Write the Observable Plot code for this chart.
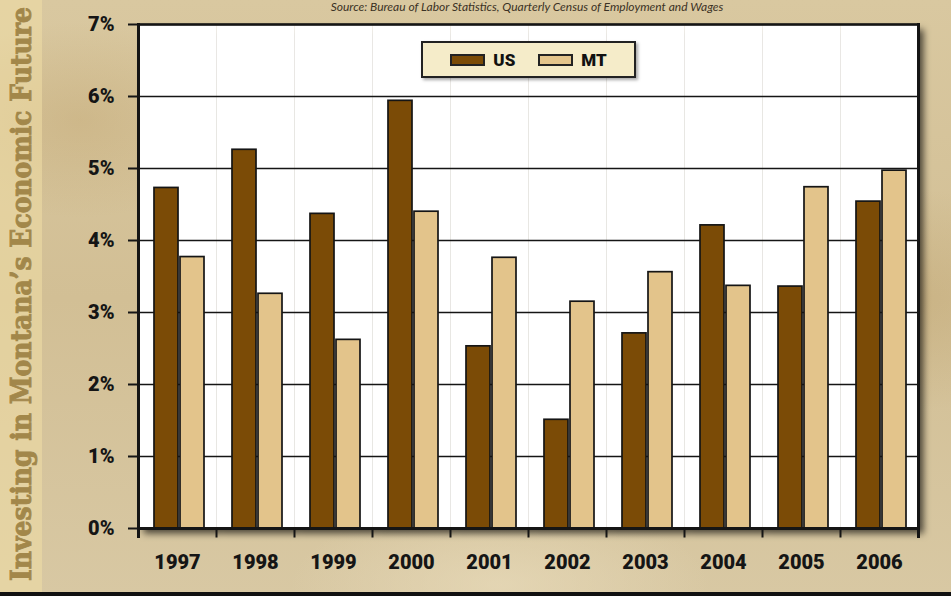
<!DOCTYPE html>
<html>
<head>
<meta charset="utf-8">
<script src="https://cdn.jsdelivr.net/npm/d3@7"></script>
<script src="https://cdn.jsdelivr.net/npm/@observablehq/plot@0.6"></script>
<style>
  html, body { margin: 0; padding: 0; }
  body { width: 951px; height: 596px; overflow: hidden; }
  #wrap {
    position: relative; width: 951px; height: 596px; overflow: hidden;
    background:
      radial-gradient(ellipse 220px 140px at 80px 120px, rgba(190,160,105,0.35), rgba(190,160,105,0) 70%),
      radial-gradient(ellipse 260px 160px at 900px 300px, rgba(185,155,100,0.35), rgba(185,155,100,0) 70%),
      radial-gradient(ellipse 300px 120px at 500px 585px, rgba(235,222,190,0.6), rgba(235,222,190,0) 70%),
      linear-gradient(180deg, #d9c8a0 0%, #d2bf95 50%, #d8c8a3 100%);
  }
  #strip { position: absolute; left: 0; top: 0; width: 42px; height: 596px; background: rgba(240,222,165,0.55); }
  #bottomline { position: absolute; left: 0; bottom: 0; width: 951px; height: 4px; background: #111; }
  #source {
    position: absolute; left: 0; width: 1054px; top: 0px; text-align: center;
    font-family: Lato, "Open Sans", sans-serif; font-style: italic; font-size: 12px; line-height: 13px; color: #3b3225;
  }
  #side { position: absolute; left: 0; top: 0; }
  #legend {
    position: absolute; left: 421px; top: 41px; width: 215px; height: 37px; box-sizing: border-box;
    border: 2px solid #222; background: #f5ecc9; box-shadow: 2px 2px 3px rgba(0,0,0,0.35);
    display: flex; align-items: center; justify-content: center;
    font-family: Roboto, "DejaVu Sans", sans-serif; font-weight: 900; font-size: 17px; color: #111;
  }
  #legend .item { display: flex; align-items: center; }
  #legend .item + .item { margin-left: 23px; }
  #legend .sw { display: inline-block; width: 31px; height: 8px; border: 2px solid #222; margin-right: 8px; }
  #chart { position: absolute; left: 0; top: 0; }
</style>
</head>
<body>
<div id="wrap">
  <div id="strip"></div>
  <div id="source"></div>
  <div id="chart"></div>
  <div id="legend"></div>
  <div id="bottomline"></div>
</div>
<script>
const years = ["1997", "1998", "1999", "2000", "2001", "2002", "2003", "2004", "2005", "2006"];
const series = ["US", "MT"];
const usValues = [4.73, 5.26, 4.37, 5.94, 2.53, 1.51, 2.71, 4.21, 3.36, 4.54];
const mtValues = [3.77, 3.26, 2.62, 4.40, 3.76, 3.15, 3.56, 3.37, 4.74, 4.97];
const seriesColors = ["#7b4b06", "#e3c48b"];
const yTicks = [0, 1, 2, 3, 4, 5, 6, 7];
const sideTitle = "Investing in Montana\u2019s Economic Future";
const sourceText = "Source: Bureau of Labor Statistics, Quarterly Census of Employment and Wages";

const data = [];
years.forEach((y, i) => {
  data.push({year: y, series: "US", value: usValues[i]});
  data.push({year: y, series: "MT", value: mtValues[i]});
});

const W = 951, H = 596;
const mTop = 24, mRight = 33, mBottom = 68, mLeft = 137;
const innerH = H - mTop - mBottom;
const ink = "#151515";

const plot = Plot.plot({
  width: W,
  height: H,
  marginTop: mTop,
  marginRight: mRight,
  marginBottom: mBottom,
  marginLeft: mLeft,
  style: {
    background: "transparent",
    overflow: "visible",
    fontFamily: "Roboto, 'DejaVu Sans', sans-serif",
    fontSize: "20px",
    fontWeight: 900,
    color: ink
  },
  fx: {domain: years, padding: 0, label: null},
  x: {domain: series, paddingInner: 0.08, paddingOuter: 0.5, align: 0.57, axis: null},
  y: {domain: [0, 7], label: null},
  color: {domain: series, range: seriesColors},
  marks: [
    Plot.frame({fill: "white", stroke: null, ariaDescription: "plotbg"}),
    Plot.ruleY(yTicks, {stroke: ink, strokeWidth: 1.6}),
    Plot.barY(data, {fx: "year", x: "series", y: "value", fill: "series", stroke: ink, strokeWidth: 1.7}),
    Plot.ruleY([0], {stroke: ink, strokeWidth: 3}),
    Plot.ruleY([7], {stroke: ink, strokeWidth: 2.5}),
    Plot.frame({anchor: "left", facetAnchor: "left", stroke: ink, strokeWidth: 3, insetBottom: -8}),
    Plot.frame({anchor: "right", facetAnchor: "right", stroke: ink, strokeWidth: 3, insetBottom: -8}),
    Plot.frame({anchor: "left", stroke: ink, strokeWidth: 2, insetTop: innerH, insetBottom: -8}),
    Plot.axisY({ticks: yTicks, tickFormat: d => d + "%", tickSize: 10, tickPadding: 14, strokeWidth: 2, stroke: ink, fill: ink, label: null}),
    Plot.axisFx({anchor: "bottom", tickSize: 0, tickPadding: 26, label: null, fill: ink})
  ]
});

// drop shadow for the plotting area
const svg = d3.select(plot);
const filt = svg.insert("defs", ":first-child").append("filter")
  .attr("id", "plotshadow").attr("x", "-20%").attr("y", "-5%").attr("width", "150%").attr("height", "115%");
filt.append("feDropShadow").attr("dx", 5).attr("dy", 5).attr("stdDeviation", 3.5)
  .attr("flood-color", "#000").attr("flood-opacity", 0.65);
plot.querySelectorAll('[aria-description="plotbg"]').forEach(g => g.setAttribute("filter", "url(#plotshadow)"));

document.getElementById("chart").appendChild(plot);

// legend
const legend = document.getElementById("legend");
series.forEach((s, i) => {
  const item = document.createElement("div");
  item.className = "item";
  const sw = document.createElement("span");
  sw.className = "sw";
  sw.style.background = seriesColors[i];
  item.appendChild(sw);
  item.appendChild(document.createTextNode(s));
  legend.appendChild(item);
});

// source line
document.getElementById("source").textContent = sourceText;

// vertical side title (condensed by a horizontal scale so it fits the page height)
const side = d3.select("#wrap").insert("svg", "#source").attr("id", "side").attr("width", 44).attr("height", H);
const titleText = side.append("text")
  .attr("text-anchor", "middle")
  .attr("dominant-baseline", "central")
  .attr("font-family", "'DejaVu Serif', serif")
  .attr("font-weight", "700")
  .attr("font-size", 27)
  .attr("fill", "#a2874a")
  .attr("stroke", "#a2874a")
  .attr("stroke-width", 0.9)
  .text(sideTitle);
const natural = titleText.node().getComputedTextLength();
const squeeze = Math.min(1, 574 / natural);
titleText.attr("transform", `translate(22,294) rotate(-90) scale(${squeeze},1)`);
</script>
</body>
</html>
